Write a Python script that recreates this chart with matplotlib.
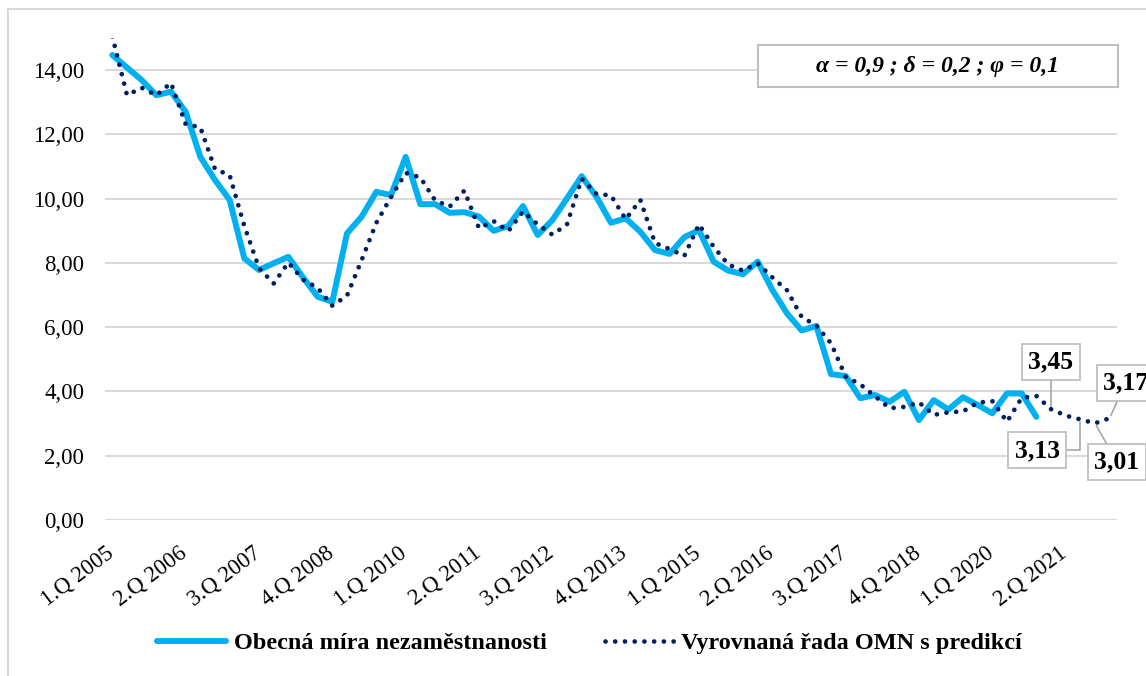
import matplotlib
matplotlib.use('Agg')
import matplotlib.pyplot as plt
from matplotlib.patches import Rectangle
from matplotlib.transforms import ScaledTranslation

plt.rcParams['font.family'] = 'Liberation Serif'

#%% Data (quarterly, 1.Q 2005 ... 1.Q 2022)
# Obecna mira nezamestnanosti, 1.Q 2005 - 4.Q 2020
omn = [14.47, 14.08, 13.69, 13.22, 13.33, 12.70, 11.30, 10.58, 9.96, 8.14,
       7.78, 7.99, 8.19, 7.55, 6.95, 6.79, 8.92, 9.44, 10.21, 10.11,
       11.30, 9.83, 9.83, 9.56, 9.58, 9.44, 9.00, 9.15, 9.77, 8.87,
       9.33, 10.01, 10.70, 10.06, 9.25, 9.39, 8.97, 8.40, 8.28, 8.80,
       9.02, 8.04, 7.76, 7.65, 8.04, 7.16, 6.43, 5.90, 6.04, 4.54,
       4.48, 3.79, 3.89, 3.68, 3.99, 3.11, 3.73, 3.44, 3.82, 3.58,
       3.32, 3.94, 3.94, 3.21]

# Vyrovnana rada OMN s predikci, 1.Q 2005 - 1.Q 2022
fit = [15.05, 13.22, 13.45, 13.22, 13.60, 12.32, 12.22, 10.92, 10.73, 9.15,
       7.84, 7.36, 8.01, 7.48, 7.22, 6.67, 6.98, 8.09, 9.25, 10.05,
       10.80, 10.66, 9.95, 9.75, 10.25, 9.08, 9.30, 8.99, 9.60, 9.20,
       8.88, 9.20, 10.62, 10.15, 10.10, 9.36, 9.96, 8.62, 8.43, 8.22,
       9.20, 8.50, 7.95, 7.76, 7.99, 7.55, 7.15, 6.32, 6.05, 5.50,
       4.46, 4.22, 3.85, 3.48, 3.52, 3.66, 3.27, 3.35, 3.38, 3.65,
       3.70, 3.06, 3.80, 3.86, 3.45, 3.25, 3.13, 3.01, 3.17]

tick_pos = [0, 5, 10, 15, 20, 25, 30, 35, 40, 45, 50, 55, 60, 65]
tick_labels = ['1.Q 2005', '2.Q 2006', '3.Q 2007', '4.Q 2008', '1.Q 2010',
               '2.Q 2011', '3.Q 2012', '4.Q 2013', '1.Q 2015', '2.Q 2016',
               '3.Q 2017', '4.Q 2018', '1.Q 2020', '2.Q 2021']
y_ticks = [0, 2, 4, 6, 8, 10, 12, 14]

lbl_idx = [64, 66, 67, 68]  # labelled prediction points

series_names = ['Obecná míra nezaměstnanosti', 'Vyrovnaná řada OMN s predikcí']
param_text = 'α = 0,9 ; δ = 0,2 ; φ = 0,1'

#%% Plot
W, H = 1146, 676
fig = plt.figure(figsize=(W / 100, H / 100), dpi=100)
ax = fig.add_axes([105 / W, 1 - 520 / H, (1117 - 105) / W, (520 - 38) / H])

ax.plot(range(len(omn)), omn, color='#00B0F0', lw=4.3,
        solid_capstyle='round', solid_joinstyle='round', label=series_names[0])
ax.plot(range(len(fit)), fit, color='#002060', lw=3.4,
        linestyle=(0, (0.01, 2.05)), dash_capstyle='round', label=series_names[1])

ax.set_xlim(-0.5, len(fit) - 0.5)
ax.set_ylim(0, 15)
ax.set_yticks(y_ticks, [f'{v:.2f}'.replace('.', ',') for v in y_ticks], fontsize=16.5)
ax.set_xticks(tick_pos, tick_labels, rotation=37, ha='right', va='center',
              rotation_mode='anchor', fontsize=16.5)
ax.tick_params(axis='y', length=0, pad=15)
ax.tick_params(axis='x', length=0, pad=22)
shift = ScaledTranslation(-0.01, 0, fig.dpi_scale_trans)
for lab in ax.get_xticklabels():
    lab.set_transform(lab.get_transform() + shift)

ax.yaxis.grid(True, color='#D9D9D9', lw=1.4)
ax.set_axisbelow(True)
for s in ax.spines.values():
    s.set_visible(False)

# data labels of prediction
offsets = [(0, 34), (-31, -22.3), (15.7, -27.9), (11.5, 25.6)]
conns = ['arc3', 'angle,angleA=0,angleB=90,rad=0', 'arc3', 'arc3']
for i, off, cs in zip(lbl_idx, offsets, conns):
    ax.annotate(f'{fit[i]:.2f}'.replace('.', ','), xy=(i, fit[i]), xytext=off,
                textcoords='offset points', ha='center', va='center',
                fontsize=18.5, fontweight='bold',
                bbox=dict(boxstyle='square,pad=0.25', fc='white', ec='#BFBFBF', lw=1.3),
                arrowprops=dict(arrowstyle='-', color='#A6A6A6', lw=1.2,
                                shrinkA=0, shrinkB=2, connectionstyle=cs),
                annotation_clip=False, zorder=5)

# parameter box
fig.patches.append(Rectangle((758 / W, 1 - 87 / H), 360 / W, 42 / H,
                             transform=fig.transFigure, fc='white', ec='#BFBFBF', lw=1.5))
fig.text(937.7 / W, 1 - 66.7 / H, param_text, ha='center', va='center',
         fontsize=17, fontweight='bold', fontstyle='italic', zorder=5)

# chart border
fig.patches.append(Rectangle((8 / W, -0.5), 2, 1.5 - 9 / H, transform=fig.transFigure,
                             fc='none', ec='#D9D9D9', lw=1.5))

fig.legend(loc='center', bbox_to_anchor=(589.5 / W, 1 - 643 / H), ncol=2,
           frameon=False, prop={'weight': 'bold', 'size': 17.5},
           handlelength=2.85, handletextpad=0.3, columnspacing=2.4)

fig.savefig('out.png', dpi=100)
